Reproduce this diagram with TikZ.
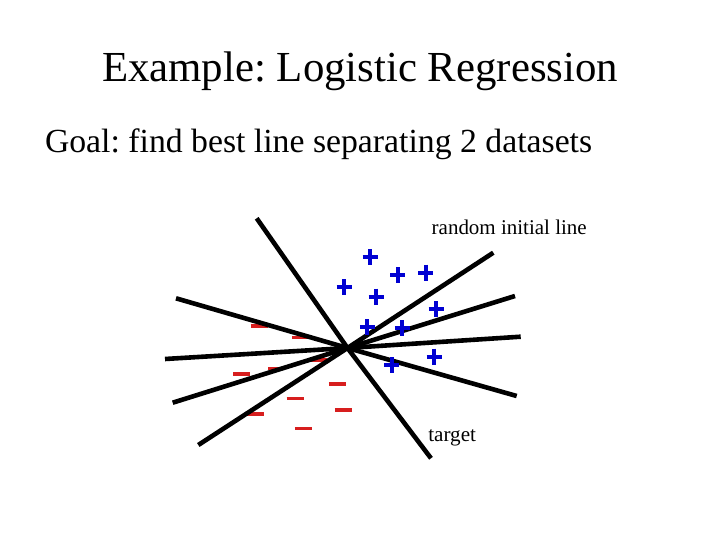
\documentclass[tikz,border=0pt]{standalone}
\usepackage{fontspec}
\setmainfont{Liberation Serif}
\frenchspacing
\definecolor{plusblue}{RGB}{0,0,210}
\definecolor{minusred}{RGB}{215,30,30}
\tikzset{
  sepline/.style={line width=4.6pt, black},
  pluss/.style={line width=4pt, plusblue},
  minuss/.style={line width=3.3pt, minusred},
  txt/.style={anchor=base west, inner sep=0pt, outer sep=0pt},
}
\newcommand{\plusmark}[2]{\draw[pluss] (#1-7.5,#2) -- (#1+7.5,#2); \draw[pluss] (#1,#2-8) -- (#1,#2+8);}
\newcommand{\minusmark}[2]{\draw[minuss] (#1-8.5,#2) -- (#1+8.5,#2);}
\begin{document}
\begin{tikzpicture}[x=1pt,y=-1pt]
\useasboundingbox (0,0) rectangle (720,540);
\fill[white] (0,0) rectangle (720,540);

% texts
\node[txt] (title) at (102,81.7) {\resizebox{516pt}{!}{\frenchspacing Example: Logistic Regression}};
\node[txt] (goal) at (45,153) {\resizebox{547pt}{!}{\frenchspacing Goal: find best line separating 2 datasets}};
\node[txt] (rand) at (431.7,234.7) {\resizebox{155pt}{!}{random initial line}};
\node[txt] (targ) at (428.3,441.7) {\resizebox{47.7pt}{!}{target}};

% minus marks
\minusmark{259}{326}
\minusmark{300.7}{337.7}
\minusmark{318.3}{360}
\minusmark{241.7}{374}
\minusmark{276.7}{368.3}
\minusmark{337.3}{384}
\minusmark{295}{398.3}
\minusmark{343.3}{410}
\minusmark{255}{414}
\minusmark{303.3}{428.3}

% lines
\coordinate (c) at (347.5,348);
\coordinate (a1) at (256.7,218.3); \coordinate (b1) at (431,458.3);
\coordinate (a2) at (493.3,252.7); \coordinate (b2) at (198.3,445);
\coordinate (a3) at (515,296);     \coordinate (b3) at (172.7,402.7);
\coordinate (a4) at (520.7,336.7); \coordinate (b4) at (165,359);
\coordinate (a5) at (176,298.3);   \coordinate (b5) at (516.7,396);
\draw[sepline] (a1) -- (c) -- (b1);
\draw[sepline] (a2) -- (c) -- (b2);
\draw[sepline] (a3) -- (c) -- (b3);
\draw[sepline] (a4) -- (c) -- (b4);
\draw[sepline] (a5) -- (c) -- (b5);

% plus marks
\plusmark{370}{257.3}
\plusmark{397.7}{275}
\plusmark{425.7}{272.7}
\plusmark{344}{287.3}
\plusmark{376}{296.7}
\plusmark{436}{309}
\plusmark{367.3}{327.3}
\plusmark{402.3}{328.3}
\plusmark{434}{356.7}
\plusmark{391.7}{365}
\end{tikzpicture}
\end{document}
